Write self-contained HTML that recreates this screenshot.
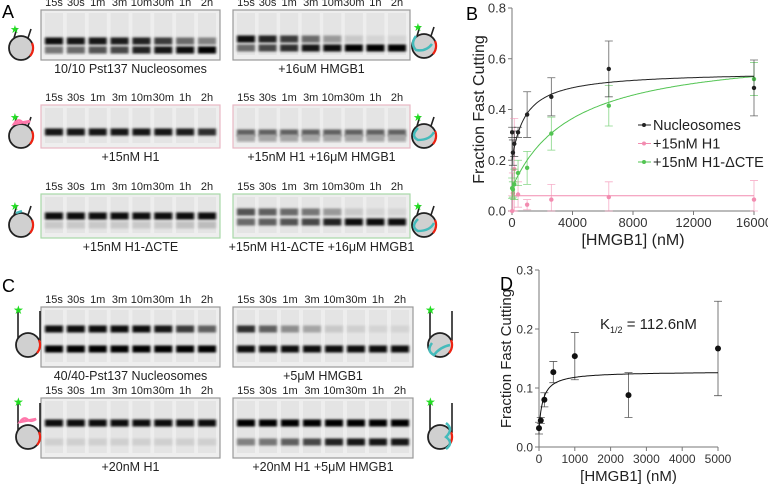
<!DOCTYPE html>
<html><head><meta charset="utf-8"><style>
body{margin:0;background:#fff;}
svg{display:block;font-family:"Liberation Sans",Arial,sans-serif;}
</style></head><body>
<svg id="fig" width="768" height="485" viewBox="0 0 768 485">
<defs>
<filter id="blur" x="-20%" y="-100%" width="140%" height="300%"><feGaussianBlur stdDeviation="1.2 1.1"/></filter>
</defs>
<text x="2" y="18" font-size="18">A</text>
<text x="466" y="20" font-size="18">B</text>
<text x="2" y="292" font-size="18">C</text>
<text x="500" y="290" font-size="18">D</text>
<g id="gels"></g>
<g id="icons"></g>
<g id="chartB"></g>
<g id="chartD"></g>
</svg>
<script>
const NS="http://www.w3.org/2000/svg";
function mk(tag,attrs,parent,txt){const e=document.createElementNS(NS,tag);for(const k in attrs)e.setAttribute(k,attrs[k]);if(txt!==undefined)e.textContent=txt;parent.appendChild(e);return e;}
const times=["15s","30s","1m","3m","10m","30m","1h","2h"];
const gels=[
 {x:41,y:10,w:179,h:50,b:"#999",cap:"10/10 Pst137 Nucleosomes",bands:[[31,[0.95,0.92,0.9,0.88,0.85,0.75,0.55,0.45]],[40,[0.5,0.55,0.65,0.7,0.85,0.9,0.95,1]]]},
 {x:233,y:10,w:177,h:50,b:"#999",cap:"+16uM HMGB1",bands:[[29,[0.95,0.85,0.75,0.55,0.35,0.15,0.1,0.1]],[38,[0.55,0.7,0.8,0.9,0.95,1,1,1]]]},
 {x:41,y:105,w:179,h:43,b:"#e8b8c4",cap:"+15nM H1",bands:[[27,[0.9,0.9,0.9,0.9,0.9,0.9,0.88,0.8]]]},
 {x:233,y:105,w:177,h:43,b:"#e8b8c4",cap:"+15nM H1 +16μM HMGB1",bands:[[28,[0.6,0.6,0.6,0.6,0.6,0.6,0.6,0.6]],[33,[0.3,0.3,0.3,0.3,0.3,0.3,0.3,0.3]]]},
 {x:41,y:194,w:179,h:44,b:"#a8d8a8",cap:"+15nM H1-ΔCTE",bands:[[22,[0.95,0.95,0.95,0.95,0.95,0.95,0.95,0.95]],[31,[0.15,0.15,0.15,0.15,0.15,0.15,0.18,0.2]]]},
 {x:233,y:194,w:177,h:44,b:"#a8d8a8",cap:"+15nM H1-ΔCTE +16μM HMGB1",bands:[[18,[0.65,0.6,0.55,0.5,0.35,0.15,0.1,0.1]],[28,[0.55,0.6,0.65,0.7,0.85,0.95,0.95,0.95]]]},
 {x:41,y:307,w:179,h:60,b:"#999",cap:"40/40-Pst137 Nucleosomes",bands:[[22,[0.95,0.95,0.95,0.95,0.95,0.9,0.75,0.6]],[42,[1,1,1,1,1,1,1,1]]]},
 {x:233,y:307,w:180,h:60,b:"#999",cap:"+5μM HMGB1",bands:[[22,[0.8,0.6,0.4,0.3,0.15,0.12,0.1,0.1]],[42,[0.95,0.95,0.95,0.95,0.95,0.95,0.95,0.95]]]},
 {x:41,y:398,w:179,h:60,b:"#999",cap:"+20nM H1",bands:[[25,[0.95,0.95,0.95,0.95,0.95,0.95,0.95,0.95]],[44,[0.12,0.12,0.12,0.12,0.12,0.12,0.12,0.12]]]},
 {x:233,y:398,w:180,h:60,b:"#999",cap:"+20nM H1 +5μM HMGB1",bands:[[25,[1,1,1,1,1,1,1,1]],[44,[0.45,0.5,0.6,0.7,0.85,0.9,0.9,0.9]]]}
];
const G=document.getElementById("gels");
gels.forEach((g,gi)=>{
  const grp=mk("g",{},G);
  
  
  mk("rect",{x:g.x,y:g.y,width:g.w,height:g.h,fill:"#eeeeee",stroke:g.b,"stroke-width":1.2},grp);
  const sp=(g.w-26)/7;
  times.forEach((t,i)=>{
    const cx=g.x+13+i*sp;
    const lbl=mk("text",{x:cx,y:g.y-4,"font-size":11,"text-anchor":"middle",fill:"#222"},G,t);
    
    
    mk("rect",{x:cx-9,y:g.y+3,width:18,height:g.h-8,fill:"#e4e4e4"},grp);
    g.bands.forEach(b=>{
      const v=Math.round(235*(1-b[1][i]));
      mk("rect",{x:cx-9,y:g.y+b[0]-3.5,width:18,height:7,fill:`rgb(${v},${v},${v})`,filter:"url(#blur)"},grp);
    });
  });
  const c=mk("text",{x:g.x+g.w/2,y:g.y+g.h+13,"font-size":12.5,"text-anchor":"middle",fill:"#222"},G,g.cap);
  
  
});
const I=document.getElementById("icons");
function icon(x,y,extra,tall){
  const g=mk("g",{},I);
  
  
  const r=12;
  if(tall){mk("path",{d:`M${x-10},${y-4} L${x-10},${y-34} M${x+12},${y-4} L${x+12},${y-34}`,stroke:"#222","stroke-width":1.6,fill:"none"},g);
    mk("text",{x:x-15,y:y-31,"font-size":12,fill:"#22dd22"},g,"★");}
  else{mk("path",{d:`M${x-7},${y-10} L${x-4},${y-20} M${x+7},${y-10} L${x+10},${y-19}`,stroke:"#222","stroke-width":1.6,fill:"none"},g);
    mk("text",{x:x-11,y:y-15,"font-size":11,fill:"#22dd22"},g,"★");}
  mk("circle",{cx:x,cy:y,r:r,fill:"#d0d0d0",stroke:"#222","stroke-width":1.8},g);
  mk("path",{d:`M${x+11},${y-5} A${r} ${r} 0 0 1 ${x+9},${y+8}`,stroke:"#e21",fill:"none","stroke-width":2.2},g);
  if(extra) mk("path",{d:extra,stroke:extra.includes("Z")?"#f7a":"#4bb","stroke-width":2.5,fill:"none"},g);
}
icon(21,48);icon(21,136,`M14,124 q4,-6 8,-2 q4,2 8,-1Z`);icon(21,225,`M16,213 l6,-2`);
icon(424,46,"M416,36 q-6,8 0,14 q10,2 16,-6");icon(424,136,"M418,128 q-8,8 0,12 q12,0 16,-8");icon(424,225,"M418,219 q-8,8 0,12 q12,0 16,-8");
icon(28,345,null,true);icon(28,437,`M20,422 q4,-6 8,-2 q4,2 8,-1Z`,true);
icon(440,345,"M432,343 q-6,8 2,12 q6,-8 16,-10",true);icon(440,437,"M446,423 q8,6 0,14 q8,6 0,12",true);

// ===== Chart B =====
const bX=[10,60,150,400,1000,2600,6400,16000];
const nucY=[0.31,0.23,0.265,0.31,0.38,0.45,0.56,0.485];
const nucE=[0.02,0.05,0.05,0.02,0.09,0.075,0.11,0.11];
const h1Y=[0.0,0.07,0.165,0.065,0.025,0.045,0.055,0.045];
const h1E=[0.06,0.08,0.2,0.05,0.02,0.06,0.06,0.075];
const ctY=[0.09,0.085,0.105,0.15,0.17,0.305,0.415,0.52];
const ctE=[0.04,0.03,0.06,0.05,0.065,0.065,0.08,0.065];
const bXTicks=[0,4000,8000,12000,16000];
const bYTicks=[0.0,0.2,0.4,0.6,0.8];
const B=document.getElementById("chartB");
const bx=v=>512+v*(754-512)/16000, by=v=>211-v*(203/0.8);
function axes(P,xf,yf,xt,yt,xmax,ymax,xlab,ylab,ylx,fs,tfs){
  const a=mk("g",{},P);
  mk("path",{d:`M${xf(0)},${yf(ymax)} L${xf(0)},${yf(0)} L${xf(xmax)},${yf(0)}`,stroke:"#777",fill:"none"},a);
  xt.forEach(t=>{mk("line",{x1:xf(t),x2:xf(t),y1:yf(0),y2:yf(0)+4,stroke:"#777"},a);
    const e=mk("text",{x:xf(t),y:yf(0)+16,"font-size":fs,"text-anchor":"middle",fill:"#333"},a,t);});
  yt.forEach(t=>{mk("line",{x1:xf(0)-4,x2:xf(0),y1:yf(t),y2:yf(t),stroke:"#777"},a);
    const e=mk("text",{x:xf(0)-6,y:yf(t)+4.5,"font-size":fs,"text-anchor":"end",fill:"#333"},a,t.toFixed(1));});
  const xl=mk("text",{x:(xf(0)+xf(xmax))/2,y:yf(0)+34,"font-size":tfs,"text-anchor":"middle",fill:"#222"},a,xlab);
  const yc=(yf(0)+yf(ymax))/2;
  const yl=mk("text",{x:ylx,y:yc,"font-size":tfs,"text-anchor":"middle",fill:"#222",transform:`rotate(-90 ${ylx} ${yc})`},a,ylab);
}
axes(B,bx,by,bXTicks,bYTicks,16000,0.8,"[HMGB1] (nM)","Fraction Fast Cutting",484,13,16);
function series(P,xf,yf,xs,ys,es,col,name,fit,xmax,r){
  const g=mk("g",{},P);
  let d="";for(let i=0;i<=200;i++){const x=xmax*i/200;d+=(i?"L":"M")+xf(x).toFixed(1)+","+yf(fit(x)).toFixed(1);}
  mk("path",{d,stroke:col,fill:"none","stroke-width":1},g);
  xs.forEach((x,i)=>{const X=xf(x),y1=yf(ys[i]+es[i]),y2=yf(Math.max(0,ys[i]-es[i]));
    mk("path",{d:`M${X},${y1}L${X},${y2}M${X-4},${y1}L${X+4},${y1}M${X-4},${y2}L${X+4},${y2}`,stroke:col,"stroke-width":0.8,fill:"none",opacity:0.7},g);
    const p=mk("circle",{cx:X,cy:yf(ys[i]),r:r,fill:col},g);});
}
series(B,bx,by,bX,h1Y,h1E,"#f28cb0","series-h1",x=>0.06,16000,2.2);
series(B,bx,by,bX,ctY,ctE,"#52c452","series-h1-dcte",x=>0.09+0.55*x/(4000+x),16000,2.2);
series(B,bx,by,bX,nucY,nucE,"#222","series-nucleosomes",x=>0.2+0.35*x/(900+x),16000,2.2);
[["Nucleosomes","#222"],["+15nM H1","#f28cb0"],["+15nM H1-ΔCTE","#52c452"]].forEach((l,i)=>{
  const g=mk("g",{},B);
  const y=125+i*18.5;
  mk("line",{x1:638,x2:651,y1:y,y2:y,stroke:l[1]},g);mk("circle",{cx:644,cy:y,r:2,fill:l[1]},g);
  mk("text",{x:653,y:y+5,"font-size":14.5,fill:"#222"},g,l[0]);});

// ===== Chart D =====
const dX=[0,50,150,400,1000,2500,5000];
const dY=[0.032,0.045,0.08,0.127,0.154,0.088,0.167];
const dE=[0.01,0.005,0.012,0.018,0.04,0.038,0.08];
const dXTicks=[0,1000,2000,3000,4000,5000];
const dYTicks=[0.0,0.1,0.2,0.3];
const D=document.getElementById("chartD");
const dx=v=>539+v*(718-539)/5000, dy=v=>447-v*590;
axes(D,dx,dy,dXTicks,dYTicks,5000,0.3,"[HMGB1] (nM)","Fraction Fast Cutting",511,12,15);
series(D,dx,dy,dX,dY,dE,"#111","series-d",x=>0.03+0.098*x/(112.6+x),5000,3);
const k=mk("text",{x:600,y:329,"font-size":15,fill:"#222"},D);

k.innerHTML='K<tspan font-size="9" dy="4">1/2</tspan><tspan dy="-4"> = 112.6nM</tspan>';
</script>
</body></html>
